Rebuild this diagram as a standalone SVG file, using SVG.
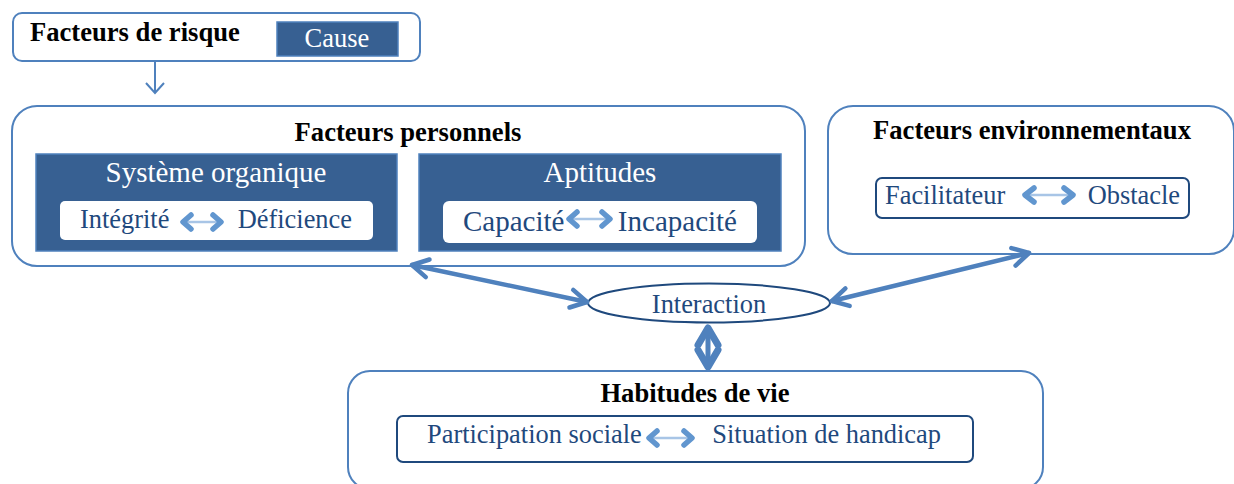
<svg xmlns="http://www.w3.org/2000/svg" width="1234" height="484" viewBox="0 0 1234 484">
<defs>
<style>
.box{fill:#fff;stroke:#4f81bd;stroke-width:2}
.dark{fill:#376092;stroke:#4f81bd;stroke-width:1.5}
.inner{fill:#fff;stroke:#1f497d;stroke-width:2}
.bold{font-family:"Liberation Serif",serif;font-weight:bold;font-size:26.6px;fill:#000}
.wt{font-family:"Liberation Serif",serif;font-size:29px;fill:#fff}
.nv{font-family:"Liberation Serif",serif;font-size:26.4px;fill:#1f497d}
.nv29{font-family:"Liberation Serif",serif;font-size:29px;fill:#1f497d}
.conn{stroke:#4f81bd;stroke-width:4.5;fill:none;stroke-linecap:round}
.sa-head{stroke:#6196cf;stroke-width:5.5;fill:none;stroke-linecap:round;stroke-linejoin:round}
.sa-shaft{stroke:#a8c5e6;stroke-width:2.5;fill:none}
</style>
<marker id="open" viewBox="0 0 24 24" refX="21" refY="12" markerWidth="24" markerHeight="24" markerUnits="userSpaceOnUse" orient="auto-start-reverse">
<path d="M5,3 L21,12 L5,21" fill="none" stroke="#4f81bd" stroke-width="4.5" stroke-linecap="round" stroke-linejoin="round"/>
</marker>
<marker id="thin" viewBox="0 0 20 20" refX="18" refY="10" markerWidth="20" markerHeight="20" markerUnits="userSpaceOnUse" orient="auto">
<path d="M8,1 L18,10 L8,19" fill="none" stroke="#4f81bd" stroke-width="2"/>
</marker>
</defs>

<g id="risque">
<rect class="box" x="13" y="13" width="407" height="48" rx="9"/>
<text class="bold" x="30" y="41">Facteurs de risque</text>
<rect class="dark" x="277" y="22" width="121" height="34"/>
<text class="wt" x="337" y="47" text-anchor="middle" style="font-size:26.5px">Cause</text>
</g>

<g id="personnels">
<rect class="box" x="12" y="106" width="793" height="160" rx="25"/>
<text class="bold" x="408" y="141" text-anchor="middle">Facteurs personnels</text>
</g>

<g id="systeme">
<rect class="dark" x="36" y="154" width="361" height="97"/>
<text class="wt" x="216" y="182" text-anchor="middle">Système organique</text>
<rect fill="#fff" x="60" y="201" width="313" height="39" rx="5"/>
<text class="nv" x="80" y="228">Intégrité</text>
<text class="nv" x="352" y="228" text-anchor="end">Déficience</text>
<g>
<line class="sa-shaft" x1="186" y1="222" x2="218" y2="222"/>
<path class="sa-head" d="M191,215 L183,222 L191,229 M213,215 L221,222 L213,229"/>
</g>
</g>

<g id="aptitudes">
<rect class="dark" x="419" y="154" width="362" height="97"/>
<text class="wt" x="600" y="182" text-anchor="middle">Aptitudes</text>
<rect fill="#fff" x="443" y="201" width="314" height="42" rx="6"/>
<text class="nv29" x="463" y="231">Capacité</text>
<text class="nv29" x="737" y="231" text-anchor="end">Incapacité</text>
<g>
<line class="sa-shaft" x1="572" y1="219" x2="607" y2="219"/>
<path class="sa-head" d="M577,212 L569,219 L577,226 M602,212 L610,219 L602,226"/>
</g>
</g>

<g id="environnementaux">
<rect class="box" x="828" y="106" width="406" height="148" rx="25"/>
<text class="bold" x="1032" y="139" text-anchor="middle">Facteurs environnementaux</text>
<rect class="inner" x="876" y="178" width="313" height="40" rx="6"/>
<text class="nv" x="885" y="204">Facilitateur</text>
<text class="nv" x="1180" y="204" text-anchor="end">Obstacle</text>
<g>
<line class="sa-shaft" x1="1028" y1="195" x2="1070" y2="195"/>
<path class="sa-head" d="M1034,188 L1025,195 L1034,202 M1064,188 L1073,195 L1064,202"/>
</g>
</g>

<g id="interaction">
<ellipse cx="709" cy="303" rx="121" ry="19.5" fill="#fff" stroke="#1f497d" stroke-width="2"/>
<text class="nv" x="709" y="313" text-anchor="middle">Interaction</text>
</g>

<g id="habitudes">
<rect class="box" x="348" y="371" width="695" height="118" rx="22"/>
<text class="bold" x="695" y="402" text-anchor="middle">Habitudes de vie</text>
<rect class="inner" x="397" y="416" width="576" height="46" rx="6"/>
<text class="nv" x="427" y="443">Participation sociale</text>
<text class="nv" x="941" y="443" text-anchor="end">Situation de handicap</text>
<g>
<line class="sa-shaft" x1="652" y1="438" x2="689" y2="438"/>
<path class="sa-head" d="M657,431 L649,438 L657,445 M684,431 L692,438 L684,445"/>
</g>
</g>

<g id="connectors">
<line x1="155" y1="61" x2="155" y2="93" stroke="#4f81bd" stroke-width="2" marker-end="url(#thin)"/>
<line class="conn" x1="412" y1="265" x2="587" y2="302" marker-start="url(#open)" marker-end="url(#open)"/>
<line class="conn" x1="832" y1="301" x2="1029" y2="253" marker-start="url(#open)" marker-end="url(#open)"/>
<g stroke="#4f81bd" fill="none" stroke-linecap="round" stroke-linejoin="round">
<line x1="708" y1="328" x2="708" y2="367" stroke-width="5"/>
<path d="M698,345 L708,328 L718,345 M698,350 L708,367 L718,350" stroke-width="7"/>
</g>
</g>
</svg>
